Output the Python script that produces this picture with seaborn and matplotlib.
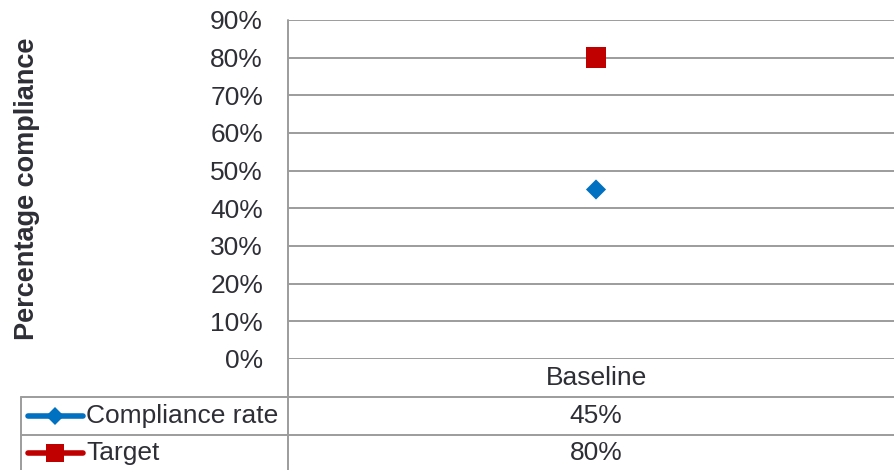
import matplotlib
matplotlib.use("Agg")
import matplotlib.pyplot as plt
from matplotlib.lines import Line2D
from matplotlib.ticker import FuncFormatter
import pandas as pd
import seaborn as sns

# Chart data
categories = ["Baseline"]
compliance_rate = [45]
target = [80]
series_names = ["Compliance rate", "Target"]
y_ticks = [0, 10, 20, 30, 40, 50, 60, 70, 80, 90]

BLUE = "#0070C0"
RED = "#C00000"
GRID = "#9c9c9c"
TEXT = "#2e2e36"
FS = 19

sns.set_theme(style="white")
plt.rcParams["font.family"] = ["Liberation Sans", "DejaVu Sans"]

W, H = 894, 470
fig = plt.figure(figsize=(W / 100, H / 100), dpi=100)


def fx(px):
    return px / W


def fy(py):
    return (H - py) / H


# Plot area in pixel coordinates
left, right, top, bottom = 288, 904, 20, 359
ax = fig.add_axes([fx(left), fy(bottom), fx(right) - fx(left), fy(top) - fy(bottom)])

df = pd.DataFrame({
    "category": categories * 2,
    "pos": [0] * len(categories) * 2,
    "series": [series_names[0]] * len(categories) + [series_names[1]] * len(categories),
    "value": compliance_rate + target,
})

sns.scatterplot(data=df[df.series == series_names[0]], x="pos", y="value",
                marker="D", s=105, color=BLUE, edgecolor="none", ax=ax, zorder=5,
                legend=False)
sns.scatterplot(data=df[df.series == series_names[1]], x="pos", y="value",
                marker="s", s=225, color=RED, edgecolor="none", ax=ax, zorder=5,
                legend=False)

ax.set_xlim(-0.5, 0.5)
ax.set_ylim(0, 90)
ax.set_yticks(y_ticks)
ax.yaxis.set_major_formatter(FuncFormatter(lambda v, _: f"{v:.0f}%"))
ax.set_xticks([])
ax.set_xlabel("")
ax.set_ylabel("")
ax.tick_params(axis="y", length=0, pad=18, labelsize=FS, labelcolor=TEXT)
ax.grid(axis="y", color=GRID, linewidth=1.4)
ax.set_axisbelow(True)
for side in ["top", "right", "bottom", "left"]:
    ax.spines[side].set_visible(False)

# Y axis title
fig.text(fx(27), fy(189), "Percentage compliance", rotation=90, ha="center",
         va="center", fontsize=19.5, fontweight="bold", color=TEXT)

# Data table below the plot
lw = 1.4
row_lines = [397, 435]
fig.add_artist(Line2D([fx(left), fx(left)], [fy(top), fy(H + 2)], transform=fig.transFigure,
                      color=GRID, lw=lw))
for ry in row_lines:
    fig.add_artist(Line2D([fx(21), fx(W + 2)], [fy(ry), fy(ry)], transform=fig.transFigure,
                          color=GRID, lw=lw))
fig.add_artist(Line2D([fx(21), fx(21)], [fy(397), fy(H + 2)], transform=fig.transFigure,
                      color=GRID, lw=lw))

col_x = 596
fig.text(fx(col_x), fy(378), categories[0], ha="center", va="center", fontsize=FS,
         color=TEXT)

rows = [
    (series_names[0], compliance_rate, BLUE, "D", 9.5, 416),
    (series_names[1], target, RED, "s", 13, 453),
]
for name, vals, col, mk, ms, ry in rows:
    fig.add_artist(Line2D([fx(28), fx(83)], [fy(ry), fy(ry)], transform=fig.transFigure,
                          color=col, lw=4, solid_capstyle="round"))
    fig.add_artist(Line2D([fx(55)], [fy(ry)], transform=fig.transFigure, marker=mk,
                          markersize=ms, color=col, markeredgewidth=0, linestyle="none"))
    fig.text(fx(86), fy(ry), name, ha="left", va="center", fontsize=FS, color=TEXT)
    fig.text(fx(col_x), fy(ry), f"{vals[0]}%", ha="center", va="center", fontsize=FS,
             color=TEXT)

fig.savefig("out.png", dpi=100)
